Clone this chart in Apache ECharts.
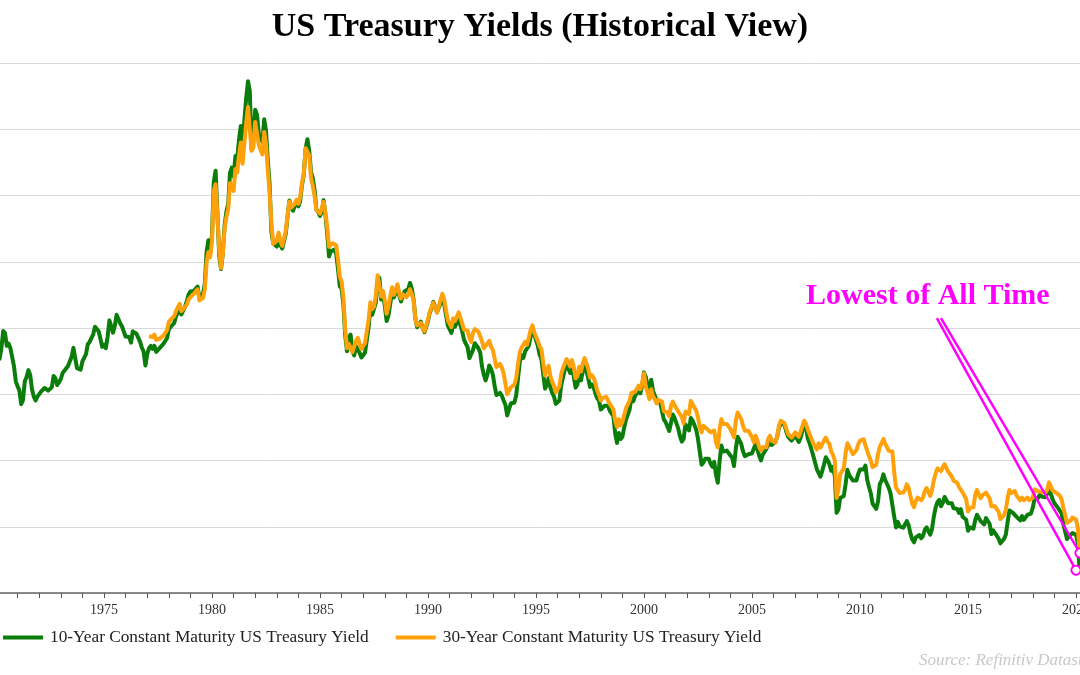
<!DOCTYPE html>
<html>
<head>
<meta charset="utf-8">
<script src="https://cdn.jsdelivr.net/npm/echarts@6/dist/echarts.min.js"></script>
<style>
html,body{margin:0;padding:0;background:#fff;}
#chart{width:1080px;height:675px;}
</style>
</head>
<body>
<div id="chart"></div>
<script>
// ---- Data (monthly) ----
const seriesNames = ['10-Year Constant Maturity US Treasury Yield', '30-Year Constant Maturity US Treasury Yield'];
const tenYearStart = [1970, 1];   // first month of 10-year series
const thirtyYearStart = [1977, 2]; // first month of 30-year series

const tenYear = [
  7.79,7.24,7.07,7.39,7.91,7.84,7.46,7.53,7.39,7.33,6.84,6.39,
  6.24,6.11,5.70,5.83,6.39,6.52,6.73,6.58,6.14,5.93,5.81,5.93,
  5.95,6.08,6.07,6.19,6.13,6.11,6.11,6.21,6.55,6.48,6.28,6.36,
  6.46,6.64,6.71,6.67,6.85,6.90,7.13,7.40,7.09,6.79,6.73,6.74,
  6.99,6.96,7.21,7.51,7.58,7.54,7.81,8.04,8.04,7.90,7.68,7.43,
  7.50,7.39,7.73,8.23,8.06,7.86,8.06,8.40,8.43,8.14,8.05,8.00,
  7.74,7.79,7.73,7.56,7.90,7.86,7.83,7.77,7.59,7.41,7.29,6.87,
  7.21,7.39,7.46,7.37,7.46,7.28,7.33,7.40,7.34,7.52,7.58,7.69,
  7.96,8.03,8.04,8.15,8.35,8.46,8.64,8.41,8.42,8.64,8.81,9.01,
  9.10,9.10,9.12,9.18,9.25,8.91,8.95,9.03,9.33,10.30,10.65,10.39,
  10.80,12.41,12.75,11.47,10.18,9.78,10.25,11.10,11.51,11.75,12.68,12.84,
  12.57,13.19,13.12,13.68,14.10,13.47,14.28,14.94,15.45,15.15,13.39,13.72,
  14.59,14.43,13.86,13.87,13.62,14.30,13.95,13.06,12.34,10.91,10.55,10.54,
  10.46,10.72,10.51,10.40,10.38,10.85,11.38,11.85,11.65,11.54,11.69,11.83,
  11.67,11.84,12.32,12.63,13.41,13.70,13.36,12.72,12.52,12.16,11.57,11.50,
  11.38,11.51,11.86,11.43,10.85,10.16,10.31,10.33,10.37,10.24,9.78,9.26,
  9.19,8.70,7.78,7.30,7.71,7.80,7.30,7.17,7.45,7.43,7.25,7.11,
  7.08,7.25,7.25,8.02,8.61,8.40,8.45,8.76,9.42,9.52,8.86,8.99,
  8.67,8.21,8.37,8.72,9.09,8.92,9.06,9.26,8.98,8.80,8.96,9.11,
  9.09,9.17,9.36,9.18,8.86,8.28,8.02,8.11,8.19,8.01,7.87,7.84,
  8.21,8.47,8.59,8.79,8.76,8.48,8.47,8.75,8.89,8.72,8.39,8.08,
  8.09,7.85,8.11,8.04,8.07,8.28,8.27,7.90,7.65,7.53,7.42,7.09,
  7.03,7.34,7.54,7.48,7.39,7.26,6.84,6.59,6.42,6.59,6.87,6.77,
  6.60,6.26,5.98,5.97,6.04,5.96,5.81,5.68,5.36,5.33,5.72,5.77,
  5.75,5.97,6.48,6.97,7.18,7.10,7.30,7.24,7.46,7.74,7.96,7.81,
  7.78,7.47,7.20,7.06,6.63,6.17,6.28,6.49,6.20,6.04,5.93,5.71,
  5.65,5.81,6.27,6.51,6.74,6.91,6.87,6.64,6.83,6.53,6.20,6.30,
  6.58,6.42,6.69,6.89,6.71,6.49,6.22,6.30,6.21,6.03,5.88,5.81,
  5.54,5.57,5.65,5.64,5.65,5.50,5.46,5.34,4.81,4.53,4.83,4.65,
  4.72,5.00,5.23,5.18,5.54,5.90,5.79,5.94,5.92,6.11,6.03,6.28,
  6.66,6.52,6.26,5.99,6.44,6.10,6.05,5.83,5.80,5.74,5.72,5.24,
  5.16,5.10,4.89,5.14,5.39,5.28,5.24,4.97,4.73,4.57,4.65,5.09,
  5.04,4.91,5.28,5.21,5.16,4.93,4.65,4.26,3.87,3.94,4.05,4.03,
  4.05,3.90,3.81,3.96,3.57,3.33,3.98,4.45,4.27,4.29,4.30,4.27,
  4.15,4.08,3.83,4.35,4.72,4.73,4.50,4.28,4.13,4.10,4.19,4.23,
  4.22,4.17,4.50,4.34,4.14,4.00,4.18,4.26,4.20,4.46,4.54,4.47,
  4.42,4.57,4.72,4.99,5.11,5.11,5.09,4.88,4.72,4.73,4.60,4.56,
  4.76,4.72,4.56,4.69,4.75,5.10,5.00,4.67,4.52,4.53,4.15,4.10,
  3.74,3.74,3.51,3.68,3.88,4.10,4.01,3.89,3.69,3.81,3.53,2.42,
  2.52,2.87,2.82,2.93,3.29,3.72,3.56,3.59,3.40,3.39,3.40,3.59,
  3.73,3.69,3.73,3.85,3.42,3.20,3.01,2.70,2.65,2.54,2.76,3.29,
  3.39,3.58,3.41,3.46,3.17,3.00,3.00,2.30,1.98,2.15,2.01,1.98,
  1.97,1.97,2.17,2.05,1.80,1.62,1.53,1.68,1.72,1.75,1.65,1.72,
  1.91,1.98,1.96,1.76,1.93,2.30,2.58,2.74,2.81,2.62,2.72,2.90,
  2.86,2.71,2.72,2.71,2.56,2.60,2.54,2.42,2.53,2.30,2.33,2.21,
  1.88,1.98,2.04,1.94,2.20,2.36,2.32,2.17,2.17,2.07,2.26,2.24,
  2.09,1.78,1.89,1.81,1.81,1.64,1.50,1.56,1.63,1.76,2.14,2.49,
  2.43,2.42,2.48,2.30,2.30,2.19,2.32,2.21,2.20,2.36,2.35,2.40,
  2.58,2.86,2.84,2.87,2.98,2.91,2.89,2.89,3.00,3.15,3.12,2.83,
  2.71,2.68,2.57,2.53,2.40,2.07,2.06,1.63,1.70,1.71,1.81,1.86,
  1.76,1.50,0.72
];

const thirtyYear = [
  7.75,7.80,7.73,7.80,7.64,7.64,7.68,7.64,7.77,7.85,7.94,
  8.18,8.25,8.25,8.36,8.51,8.62,8.73,8.51,8.45,8.63,8.70,8.86,
  8.93,8.93,9.04,9.10,9.17,8.83,8.83,8.91,9.16,9.98,10.29,10.14,
  10.60,12.13,12.34,11.40,10.36,9.81,10.24,11.00,11.34,11.59,12.37,12.40,
  12.14,12.80,12.69,13.20,13.60,12.96,13.59,14.17,14.67,14.68,13.35,13.45,
  14.22,14.22,13.53,13.37,13.24,13.92,13.55,12.77,12.07,11.17,10.54,10.54,
  10.63,10.88,10.63,10.48,10.53,10.93,11.40,11.82,11.63,11.58,11.75,11.88,
  11.75,11.95,12.38,12.65,13.43,13.44,13.21,12.54,12.29,11.98,11.56,11.52,
  11.45,11.47,11.81,11.47,11.05,10.45,10.50,10.56,10.61,10.50,10.06,9.54,
  9.40,8.93,7.96,7.39,7.52,7.57,7.27,7.33,7.62,7.70,7.52,7.37,
  7.39,7.54,7.55,8.25,8.78,8.57,8.64,8.97,9.59,9.61,8.95,9.12,
  8.83,8.43,8.63,8.95,9.23,9.00,9.14,9.32,9.06,8.89,9.02,9.01,
  8.93,9.01,9.17,9.03,8.83,8.27,8.08,8.12,8.15,8.00,7.90,7.90,
  8.26,8.50,8.56,8.76,8.73,8.46,8.50,8.86,9.03,8.86,8.54,8.24,
  8.27,8.03,8.29,8.21,8.27,8.47,8.45,8.14,7.95,7.93,7.92,7.70,
  7.58,7.85,7.97,7.96,7.89,7.84,7.60,7.39,7.34,7.53,7.61,7.44,
  7.34,7.09,6.82,6.85,6.92,6.81,6.63,6.32,6.00,5.94,6.21,6.25,
  6.29,6.49,6.91,7.27,7.41,7.40,7.58,7.49,7.71,7.94,8.08,7.87,
  7.85,7.61,7.45,7.36,6.95,6.57,6.72,6.86,6.55,6.37,6.26,6.06,
  6.05,6.24,6.60,6.79,6.93,7.06,7.03,6.84,7.03,6.81,6.48,6.55,
  6.83,6.69,6.93,7.09,6.94,6.77,6.51,6.58,6.50,6.33,6.11,5.99,
  5.81,5.89,5.95,5.92,5.93,5.70,5.68,5.54,5.20,5.01,5.25,5.06,
  5.16,5.37,5.58,5.55,5.81,6.04,5.98,6.07,6.07,6.26,6.15,6.35,
  6.63,6.23,6.05,5.85,6.15,5.93,5.85,5.72,5.83,5.80,5.78,5.49,
  5.54,5.45,5.34,5.65,5.78,5.67,5.61,5.48,5.48,5.32,5.12,5.48,
  5.45,5.40,5.80,5.70,5.60,5.50,5.30,5.00,4.85,5.05,5.05,4.95,
  4.95,4.85,4.80,4.90,4.55,4.40,4.95,5.25,5.10,5.15,5.10,5.05,
  4.95,4.90,4.70,5.20,5.45,5.45,5.25,5.05,4.90,4.85,4.90,4.85,
  4.70,4.55,4.75,4.60,4.40,4.30,4.40,4.45,4.40,4.65,4.75,4.60,
  4.55,4.54,4.73,5.06,5.20,5.15,5.13,4.97,4.80,4.85,4.69,4.68,
  4.85,4.82,4.72,4.87,4.90,5.20,5.11,4.93,4.79,4.77,4.52,4.53,
  4.33,4.52,4.39,4.44,4.60,4.69,4.57,4.50,4.27,4.17,4.00,2.87,
  3.13,3.59,3.64,3.76,4.23,4.52,4.41,4.37,4.19,4.19,4.31,4.49,
  4.60,4.62,4.64,4.69,4.29,4.13,3.99,3.80,3.77,3.87,4.19,4.42,
  4.52,4.65,4.51,4.50,4.29,4.23,4.27,3.65,3.18,3.13,3.02,2.98,
  3.03,3.11,3.28,3.18,2.93,2.70,2.59,2.77,2.88,2.90,2.80,2.88,
  3.08,3.17,3.16,2.93,3.11,3.40,3.61,3.76,3.79,3.68,3.80,3.89,
  3.77,3.66,3.62,3.52,3.39,3.42,3.33,3.20,3.26,3.04,3.04,2.83,
  2.46,2.57,2.63,2.59,2.96,3.11,3.07,2.86,2.95,2.89,3.03,2.97,
  2.86,2.62,2.68,2.62,2.63,2.45,2.23,2.26,2.35,2.50,2.86,3.11,
  3.02,3.03,3.08,2.94,2.96,2.80,2.88,2.80,2.78,2.88,2.80,2.77,
  2.88,3.13,3.09,3.07,3.13,3.05,3.01,3.04,3.11,3.34,3.36,3.10,
  3.04,3.02,2.98,2.94,2.82,2.57,2.57,2.12,2.16,2.19,2.28,2.30,
  2.22,1.97,1.20
];

const yearTicks = [1975, 1980, 1985, 1990, 1995, 2000, 2005, 2010, 2015, 2020];
const annotationText = 'Lowest of All Time';
// annotation arrow segments in data coordinates [year, yield]
const arrowA = [[2013.56, 8.30], [2020.00, 0.69]];
const arrowB = [[2013.75, 8.30], [2020.18, 1.21]];

function toPairs(values, start) {
  return values.map((v, i) => [start[0] + (start[1] - 1 + i) / 12, v]);
}

const chart = echarts.init(document.getElementById('chart'));
const serif = '"Liberation Serif", "Times New Roman", serif';

chart.setOption({
  backgroundColor: '#ffffff',
  animation: false,
  title: {
    text: 'US Treasury Yields (Historical View)',
    left: 'center',
    top: 5,
    textStyle: { fontFamily: serif, fontSize: 34, fontWeight: 'bold', color: '#000' }
  },
  legend: {
    left: 3,
    top: 629,
    padding: 0,
    icon: 'rect',
    itemWidth: 40,
    itemHeight: 4,
    itemGap: 27,
    textStyle: { fontFamily: serif, fontSize: 17.3, color: '#222', padding: [0, 0, 0, 2] },
    data: seriesNames
  },
  grid: { left: -4, right: 0, top: 63, bottom: 82, containLabel: false, outerBoundsMode: 'none' },
  xAxis: {
    type: 'value',
    min: 1970,
    max: 2020.185,
    interval: 1,
    axisLine: { show: true, lineStyle: { color: '#666', width: 1.5 } },
    axisTick: { show: true, length: 5, lineStyle: { color: '#555' } },
    splitLine: { show: false },
    axisLabel: {
      fontFamily: serif, fontSize: 14, color: '#333', margin: 10,
      showMaxLabel: false,
      formatter: v => yearTicks.indexOf(Math.round(v)) >= 0 && Math.abs(v - Math.round(v)) < 1e-6 ? String(Math.round(v)) : ''
    }
  },
  yAxis: {
    type: 'value',
    min: 0,
    max: 16,
    interval: 2,
    axisLine: { show: false },
    axisTick: { show: false },
    axisLabel: { show: false },
    splitLine: { lineStyle: { color: '#d9d9d9', width: 1 } }
  },
  graphic: [
    {
      type: 'text', left: 806, top: 281,
      style: { text: annotationText, fill: '#ff00ff', font: 'bold 30px ' + serif }
    },
    {
      type: 'text', left: 919, top: 652,
      style: { text: 'Source: Refinitiv Datastream', fill: '#c8c8c8', font: 'italic 17px ' + serif }
    }
  ],
  series: [
    {
      name: seriesNames[0],
      type: 'line',
      data: toPairs(tenYear, tenYearStart),
      showSymbol: false,
      lineStyle: { color: '#0a7d0a', width: 4, join: 'round' },
      itemStyle: { color: '#0a7d0a' },
      z: 2
    },
    {
      name: seriesNames[1],
      type: 'line',
      data: toPairs(thirtyYear, thirtyYearStart),
      showSymbol: false,
      lineStyle: { color: '#ffa10a', width: 4, join: 'round' },
      itemStyle: { color: '#ffa10a' },
      z: 3,
      markLine: {
        silent: true,
        symbol: ['none', 'emptyCircle'],
        symbolSize: 9,
        label: { show: false },
        lineStyle: { color: '#ff00ff', width: 2.5, type: 'solid' },
        data: [
          [{ coord: arrowA[0] }, { coord: arrowA[1] }],
          [{ coord: arrowB[0] }, { coord: arrowB[1] }]
        ]
      }
    }
  ]
});
</script>
</body>
</html>
